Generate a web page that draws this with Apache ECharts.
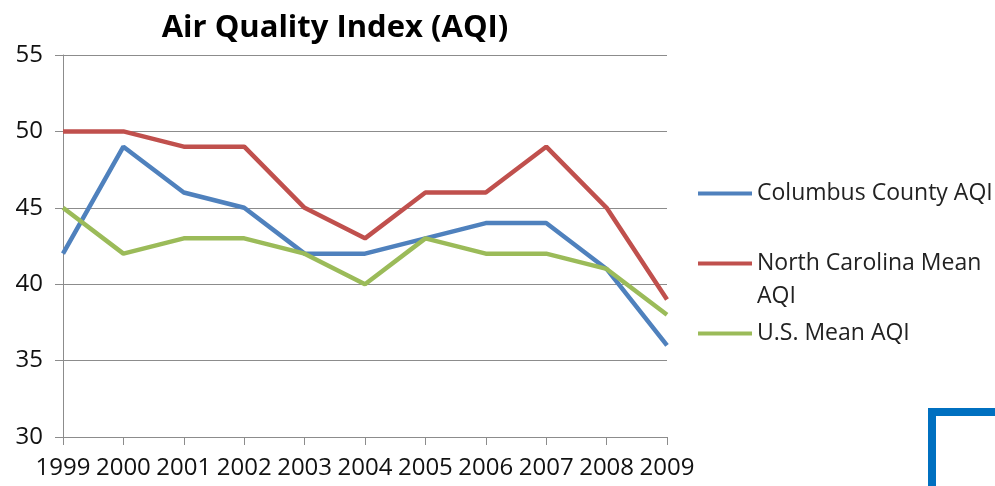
<!DOCTYPE html>
<html>
<head>
<meta charset="utf-8">
<script src="https://cdn.jsdelivr.net/npm/echarts@6/dist/echarts.min.js"></script>
<style>
  html, body { margin: 0; padding: 0; background: #fff; }
  #chart { width: 995px; height: 486px; }
</style>
</head>
<body>
<div id="chart"></div>
<script>
// 数据
var years = ['1999', '2000', '2001', '2002', '2003', '2004', '2005', '2006', '2007', '2008', '2009'];
var columbusAqi = [42, 49, 46, 45, 42, 42, 43, 44, 44, 41, 36];
var ncMeanAqi = [50, 50, 49, 49, 45, 43, 46, 46, 49, 45, 39];
var usMeanAqi = [45, 42, 43, 43, 42, 40, 43, 42, 42, 41, 38];
var seriesNames = ['Columbus County AQI', 'North Carolina Mean AQI', 'U.S. Mean AQI'];

var font = '"Open Sans", sans-serif';
var colors = ['#4F81BD', '#C0504D', '#9BBB59'];

var chart = echarts.init(document.getElementById('chart'));

function lineSeries(name, data, color) {
  return {
    name: name,
    type: 'line',
    data: data,
    showSymbol: false,
    symbol: 'none',
    lineStyle: { width: 4.5, color: color },
    itemStyle: { color: color }
  };
}

var option = {
  animation: false,
  title: {
    text: 'Air Quality Index (AQI)',
    left: 330,
    textAlign: 'center',
    top: 8,
    textStyle: { fontFamily: font, fontSize: 31, fontWeight: 'bold', color: '#000' }
  },
  // 图例竖排，北卡那项两行
  legend: {
    orient: 'vertical',
    left: 698,
    top: 177,
    padding: 0,
    icon: 'rect',
    itemWidth: 54,
    itemHeight: 4,
    itemGap: 4,
    data: seriesNames,
    formatter: function (name) {
      if (name === 'North Carolina Mean AQI') return '\nNorth Carolina Mean\nAQI';
      return name;
    },
    textStyle: { fontFamily: font, fontSize: 23, lineHeight: 33, color: '#222' }
  },
  grid: { left: 63, right: 328, top: 55, bottom: 49, containLabel: false },
  xAxis: {
    type: 'category',
    data: years,
    boundaryGap: false,
    axisLine: { lineStyle: { color: '#8c8c8c', width: 1 } },
    axisTick: { show: true, length: 8, alignWithLabel: true, lineStyle: { color: '#8c8c8c' } },
    axisLabel: { fontFamily: font, fontSize: 24, color: '#111', margin: 19, interval: 0 },
    splitLine: { show: false }
  },
  yAxis: {
    type: 'value',
    min: 30,
    max: 55,
    interval: 5,
    axisLine: { show: true, lineStyle: { color: '#8c8c8c', width: 1 } },
    axisTick: { show: true, length: 8, inside: false, lineStyle: { color: '#8c8c8c' } },
    axisLabel: { fontFamily: font, fontSize: 24, color: '#111', margin: 20 },
    splitLine: { show: true, lineStyle: { color: '#8c8c8c', width: 1 } }
  },
  series: [
    lineSeries(seriesNames[0], columbusAqi, colors[0]),
    lineSeries(seriesNames[1], ncMeanAqi, colors[1]),
    lineSeries(seriesNames[2], usMeanAqi, colors[2])
  ],
  // 右下角的蓝色角框
  graphic: [{
    type: 'polyline',
    shape: { points: [[932, 490], [932, 412], [1000, 412]] },
    style: { stroke: '#0070C0', lineWidth: 8, fill: null }
  }]
};

chart.setOption(option);
</script>
</body>
</html>
